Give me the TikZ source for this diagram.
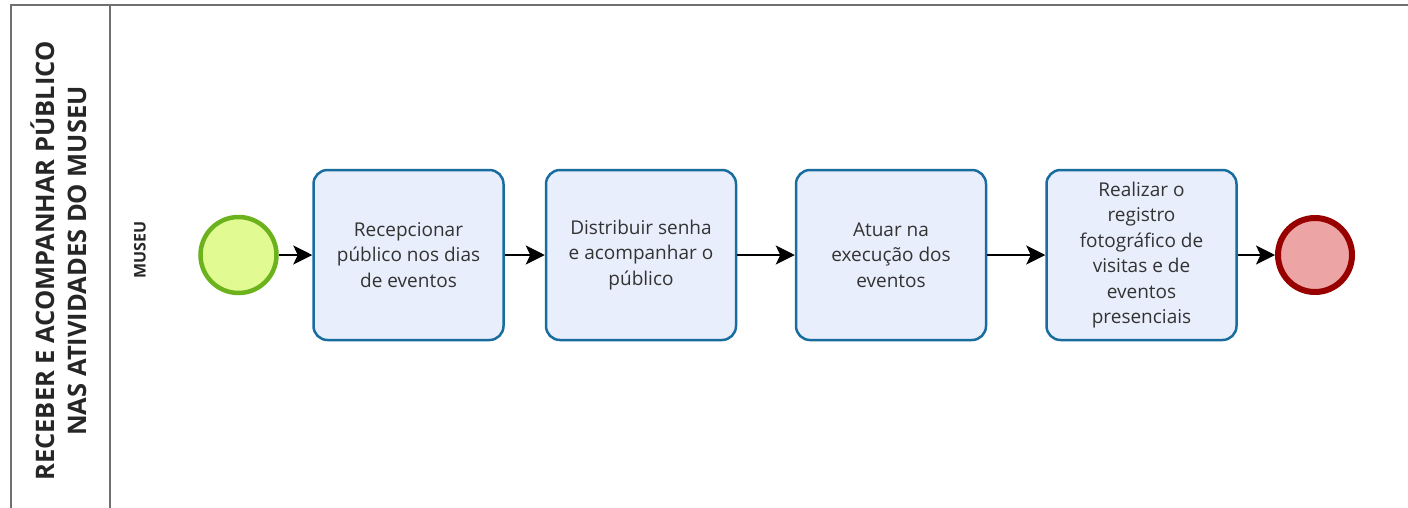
\documentclass[tikz,border=0pt]{standalone}
\usepackage{fontspec}
\setmainfont{Open Sans}
\usetikzlibrary{arrows.meta, positioning}
\definecolor{poolgray}{RGB}{112,112,112}
\definecolor{taskblue}{RGB}{24,108,158}
\definecolor{taskfill}{RGB}{233,238,252}
\definecolor{startgreen}{RGB}{108,178,28}
\definecolor{startfill}{RGB}{226,250,146}
\definecolor{endred}{RGB}{152,0,0}
\definecolor{endfill}{RGB}{236,164,164}

\tikzset{
    task/.style={draw=taskblue, fill=taskfill, line width=2.5pt, rounded corners=14pt,
        minimum width=190pt, minimum height=170pt, align=center, text=black!80,
        font=\fontsize{19}{25.5}\selectfont},
    startev/.style={circle, draw=startgreen, fill=startfill, line width=4.5pt, minimum size=76pt},
    endev/.style={circle, draw=endred, fill=endfill, line width=6pt, minimum size=74pt},
    flow/.style={-{Stealth[length=19pt, width=19pt, inset=4.5pt]}, line width=1.5pt, black}
}

\begin{document}
\begin{tikzpicture}[x=1pt, y=-1pt]
    \useasboundingbox (0,0) rectangle (1408,507);

    % Pool and lane
    \draw[poolgray, line width=2.2pt] (11,510) -- (11,5) -- (1412,5);
    \draw[poolgray, line width=1.8pt] (110,5) -- (110,510);
    \node[rotate=90, align=center, font=\fontsize{25.5}{32}\selectfont\bfseries, text=black!85] (pool) at (59,261)
        {RECEBER E ACOMPANHAR PÚBLICO\\NAS ATIVIDADES DO MUSEU};
    \node[rotate=90, font=\fontsize{16}{18}\selectfont\bfseries, text=black!85] (lane) at (140,250) {MUSEU};

    % Events and tasks
    \node[startev] (start) at (238.5,255) {};
    \node[task] (receive) at (408.5,255) {Recepcionar\\público nos dias\\de eventos};
    \node[task] (ticket) at (641,255) {Distribuir senha\\e acompanhar o\\público};
    \node[task] (perform) at (891,255) {Atuar na\\execução dos\\eventos};
    \node[task] (photo) at (1141.5,255) {Realizar o\\registro\\fotográfico de\\visitas e de\\eventos\\presenciais};
    \node[endev] (end) at (1315,255) {};

    % Sequence flows
    \draw[flow] (start) -- (receive);
    \draw[flow] (receive) -- (ticket);
    \draw[flow] (ticket) -- (perform);
    \draw[flow] (perform) -- (photo);
    \draw[flow] (photo) -- (end);
\end{tikzpicture}
\end{document}
